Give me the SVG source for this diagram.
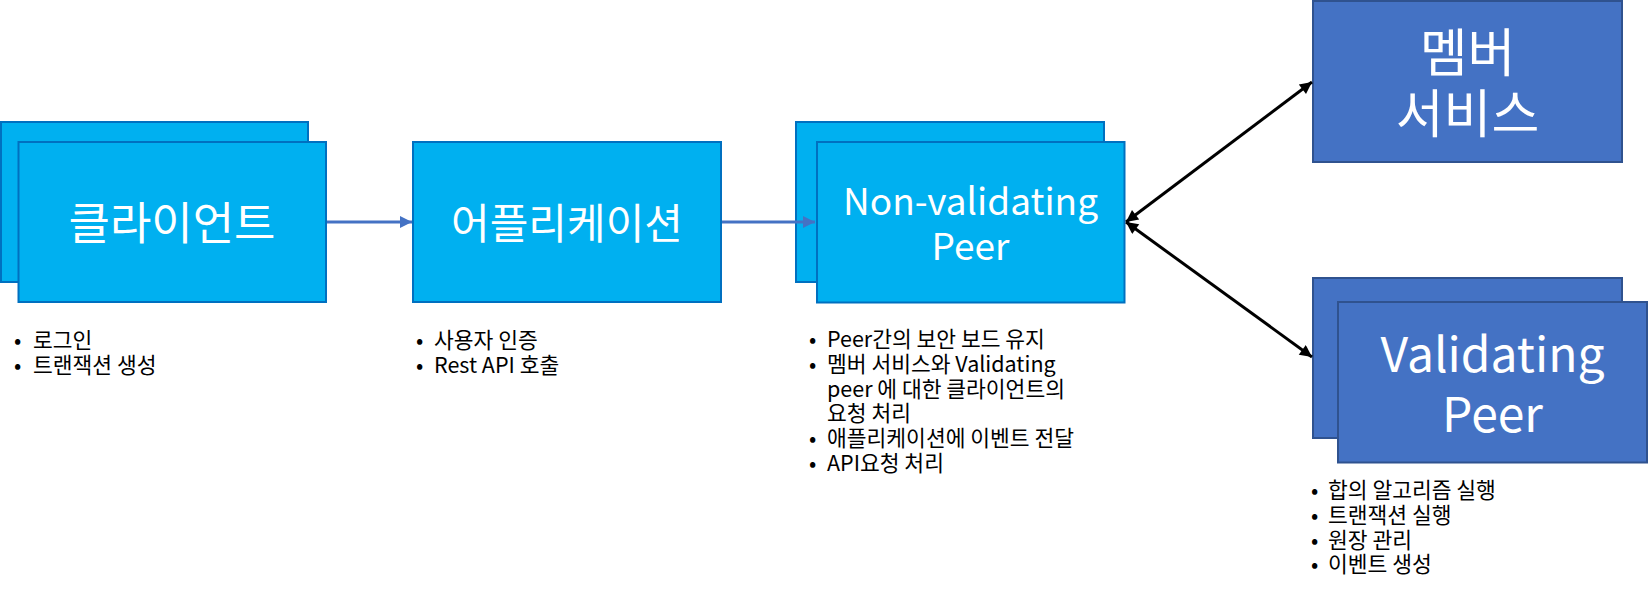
<svg xmlns="http://www.w3.org/2000/svg" width="1648" height="590" viewBox="0 0 1648 590">
<style>
.cy{fill:#00B0F0;stroke:#0070C0;stroke-width:2}
.db{fill:#4472C4;stroke:#2F528F;stroke-width:2}
.t{font-family:"Noto Sans CJK KR","Noto Sans",sans-serif;fill:#FFFFFF;text-anchor:middle}
.b{font-family:"Noto Sans CJK KR","Noto Sans",sans-serif;fill:#000000;font-size:21.5px}
.bl{stroke:#4472C4;stroke-width:3;fill:none}
.bk{stroke:#000000;stroke-width:3;fill:none}
</style>
<defs>
<marker id="ab" viewBox="0 0 10 10" refX="10" refY="5" markerWidth="4" markerHeight="4" orient="auto" markerUnits="strokeWidth">
<path d="M0,0 L10,5 L0,10 Z" fill="#4472C4"/>
</marker>
<marker id="ak" viewBox="0 0 10 10" refX="10" refY="5" markerWidth="5" markerHeight="4" orient="auto-start-reverse" markerUnits="strokeWidth">
<path d="M0,0 L10,5 L0,10 Z" fill="#000000"/>
</marker>
</defs>
<g id="client">
<rect class="cy" x="1" y="122" width="307" height="160"/>
<rect class="cy" x="18.5" y="142" width="307.5" height="160"/>
<text class="t" x="172" y="240" font-size="45">클라이언트</text>
</g>
<g id="client-notes">
<text class="b" x="14" y="348">•</text><text class="b" x="33" y="348">로그인</text>
<text class="b" x="14" y="373">•</text><text class="b" x="33" y="373">트랜잭션 생성</text>
</g>
<g id="application">
<rect class="cy" x="413" y="142" width="308" height="160"/>
<text class="t" x="567" y="239" font-size="42">어플리케이션</text>
</g>
<g id="application-notes">
<text class="b" x="416" y="348">•</text><text class="b" x="434" y="348">사용자 인증</text>
<text class="b" x="416" y="373">•</text><text class="b" x="434" y="373">Rest API 호출</text>
</g>
<g id="non-validating-peer">
<rect class="cy" x="796" y="122" width="308" height="160"/>
<rect class="cy" x="817" y="142" width="307.5" height="160.5"/>
<text class="t" x="970.5" y="215" font-size="37">Non-validating</text>
<text class="t" x="970.5" y="260" font-size="37">Peer</text>
</g>
<g id="nvp-notes">
<text class="b" x="809" y="347">•</text><text class="b" x="827" y="347">Peer간의 보안 보드 유지</text>
<text class="b" x="809" y="372">•</text><text class="b" x="827" y="372">멤버 서비스와 Validating</text>
<text class="b" x="827" y="396.5">peer 에 대한 클라이언트의</text>
<text class="b" x="827" y="421">요청 처리</text>
<text class="b" x="809" y="446">•</text><text class="b" x="827" y="446">애플리케이션에 이벤트 전달</text>
<text class="b" x="809" y="471">•</text><text class="b" x="827" y="471">API요청 처리</text>
</g>
<g id="member-service">
<rect class="db" x="1313" y="1" width="309" height="161"/>
<text class="t" x="1467.5" y="72" font-size="52">멤버</text>
<text class="t" x="1467.5" y="133" font-size="52">서비스</text>
</g>
<g id="validating-peer">
<rect class="db" x="1313" y="278" width="309" height="160"/>
<rect class="db" x="1338" y="302" width="309" height="160.5"/>
<text class="t" x="1492.5" y="372" font-size="48">Validating</text>
<text class="t" x="1492.5" y="432" font-size="48">Peer</text>
</g>
<g id="vp-notes">
<text class="b" x="1311" y="498">•</text><text class="b" x="1328" y="498">합의 알고리즘 실행</text>
<text class="b" x="1311" y="523">•</text><text class="b" x="1328" y="523">트랜잭션 실행</text>
<text class="b" x="1311" y="547.5">•</text><text class="b" x="1328" y="547.5">원장 관리</text>
<text class="b" x="1311" y="572">•</text><text class="b" x="1328" y="572">이벤트 생성</text>
</g>
<g id="connectors">
<line class="bl" x1="327" y1="222" x2="412" y2="222" marker-end="url(#ab)"/>
<line class="bl" x1="722" y1="222" x2="815" y2="222" marker-end="url(#ab)"/>
<line class="bk" x1="1126" y1="222" x2="1312" y2="82" marker-start="url(#ak)" marker-end="url(#ak)"/>
<line class="bk" x1="1126" y1="222" x2="1312" y2="357" marker-start="url(#ak)" marker-end="url(#ak)"/>
</g>
</svg>
